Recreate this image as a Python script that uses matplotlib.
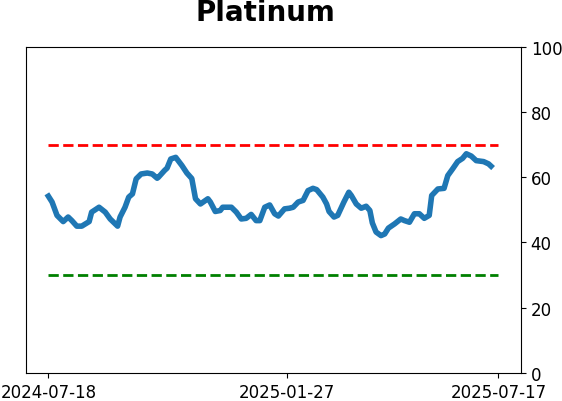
import pandas as pd
import matplotlib.pyplot as plt

# lecture du graphique: jours depuis le debut et valeur
start = pd.Timestamp('2024-07-18')
end = pd.Timestamp('2025-07-17')
day_offsets = [0, 3, 7, 12, 16, 19, 23, 27, 33, 35, 41, 46, 50, 56, 58, 62, 65, 68,
               71, 75, 80, 84, 88, 89, 94, 96, 99, 103, 108, 112, 116, 119, 123,
               129, 131, 135, 139, 141, 148, 152, 156, 160, 164, 168, 171, 175,
               179, 183, 186, 191, 195, 198, 202, 206, 210, 214, 217, 222, 225,
               227, 231, 234, 239, 243, 245, 249, 253, 257, 260, 262, 265, 269,
               272, 275, 280, 285, 288, 292, 296, 300, 304, 308, 310, 315, 320,
               323, 327, 331, 335, 338, 342, 346, 352, 356, 358]
values = [54.2, 52.4, 48.3, 46.4, 47.8, 46.7, 45.0, 45.0, 46.4, 49.3, 50.8, 49.3,
          47.2, 45.0, 47.8, 50.8, 53.9, 54.9, 59.5, 61.0, 61.3, 61.0, 59.7, 60.0,
          62.1, 62.8, 65.6, 66.1, 63.6, 61.3, 59.6, 53.4, 51.8,
          53.4, 52.4, 49.5, 49.8, 50.8, 50.8, 49.3, 47.2, 47.4, 48.6, 46.7, 46.7,
          50.8, 51.5, 48.8, 48.1, 50.3, 50.5, 50.8, 52.4, 52.9, 55.9, 56.6, 56.2,
          53.9, 51.8, 49.5, 47.8, 48.3, 52.4, 55.4, 54.4, 51.8, 50.5, 51.1, 49.8,
          46.0, 43.2, 42.1, 42.6, 44.4, 45.7, 47.2, 46.7, 46.2, 48.8, 48.8, 47.4,
          48.3, 54.4, 56.4, 56.6, 60.5, 62.6, 64.8, 65.8, 67.2, 66.5, 65.1, 64.8,
          64.1, 63.4]
upper = 70
lower = 30
tick_dates = ['2024-07-18', '2025-01-27', '2025-07-17']

dates = start + pd.to_timedelta(day_offsets, unit='D')

fig = plt.figure(figsize=(5.62, 4.02), dpi=100)
ax = fig.add_axes([0.046, 0.07, 0.881, 0.811])

ax.plot(dates, values, color='tab:blue', linewidth=4)
ax.plot([start, end], [upper, upper], color='red', linestyle='--', linewidth=2)
ax.plot([start, end], [lower, lower], color='green', linestyle='--', linewidth=2)

ax.set_ylim(0, 100)
ax.yaxis.tick_right()
ax.set_xticks(pd.to_datetime(tick_dates))
ax.set_xticklabels(tick_dates)
ax.tick_params(labelsize=12)
ax.set_title('Platinum', fontsize=20, fontweight='bold', pad=19, x=0.484)

fig.savefig('out.png', dpi=100)
